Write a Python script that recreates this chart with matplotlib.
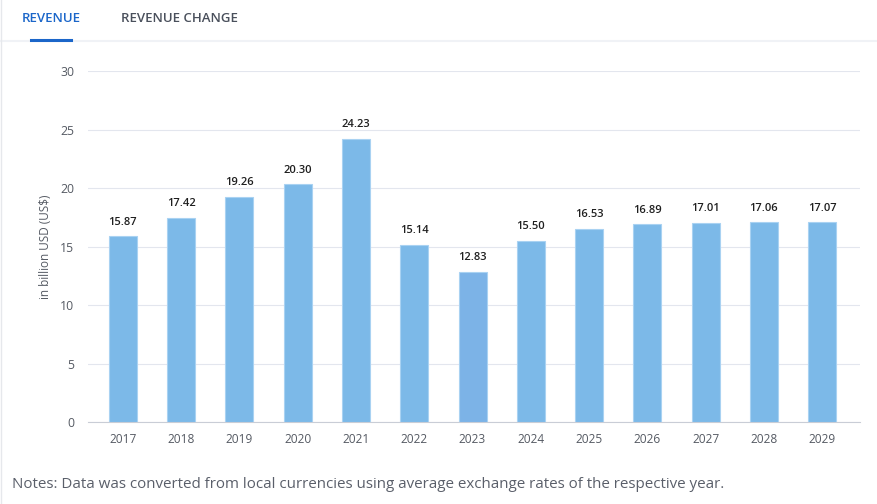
import matplotlib.pyplot as plt
from matplotlib.lines import Line2D
import numpy as np

plt.rcParams['font.family'] = ['Open Sans', 'DejaVu Sans']

years = ['2017', '2018', '2019', '2020', '2021', '2022', '2023',
         '2024', '2025', '2026', '2027', '2028', '2029']
revenue = [15.87, 17.42, 19.26, 20.30, 24.23, 15.14, 12.83,
           15.50, 16.53, 16.89, 17.01, 17.06, 17.07]
yticks = [0, 5, 10, 15, 20, 25, 30]

bar_color = '#7cb9e8'
bar_edge = '#a9d2f2'

fig = plt.figure(figsize=(8.77, 5.04), dpi=100)
ax = fig.add_axes([0.1003, 0.1627, 0.8803, 0.6964])

x = np.arange(len(years))
colors = [bar_color] * len(years)
colors[6] = '#7cb3e7'
ax.bar(x, revenue, width=0.48, color=colors, edgecolor=bar_edge, linewidth=0.8, zorder=3)

for xi, v in zip(x, revenue):
    ax.text(xi, v + 0.75, f'{v:.2f}', ha='center', va='bottom',
            fontsize=8, fontweight='semibold', color='#1f1f1f')

ax.set_xlim(-0.6, 12.65)
ax.set_ylim(0, 30)
ax.set_yticks(yticks)
ax.set_xticks(x)
ax.set_xticklabels(years)
ax.grid(axis='y', color='#e3e6ee', linewidth=0.8, zorder=0)
for s in ['top', 'right', 'left']:
    ax.spines[s].set_visible(False)
ax.spines['bottom'].set_color('#c9cdd6')
ax.tick_params(axis='y', length=0, pad=10, labelsize=8.8, labelcolor='#555a63')
ax.tick_params(axis='x', length=0, pad=8, labelsize=8.6, labelcolor='#555a63')
ax.set_ylabel('in billion USD (US$)', fontsize=8.5, color='#555a63', labelpad=6)

# tab header
fig.text(22 / 877, 1 - 18 / 504, 'REVENUE', fontsize=9.5, fontweight='semibold',
         color='#1b66c9', va='center', ha='left')
fig.text(121 / 877, 1 - 18 / 504, 'REVENUE CHANGE', fontsize=9.5, fontweight='semibold',
         color='#4a505c', va='center', ha='left')
fig.add_artist(Line2D([0, 1], [1 - 41 / 504] * 2, color='#f0f2f6', linewidth=1.5))
fig.add_artist(Line2D([31 / 877, 71 / 877], [1 - 40 / 504] * 2, color='#1b66c9', linewidth=2.2))
fig.add_artist(Line2D([0.5 / 877] * 2, [0, 1], color='#e6e8ec', linewidth=1))

fig.text(12 / 877, 1 - 484 / 504, 'Notes: Data was converted from local currencies using average exchange rates of the respective year.',
         fontsize=10.9, color='#5a5f6a', va='center', ha='left')

fig.savefig('out.png', dpi=100)
